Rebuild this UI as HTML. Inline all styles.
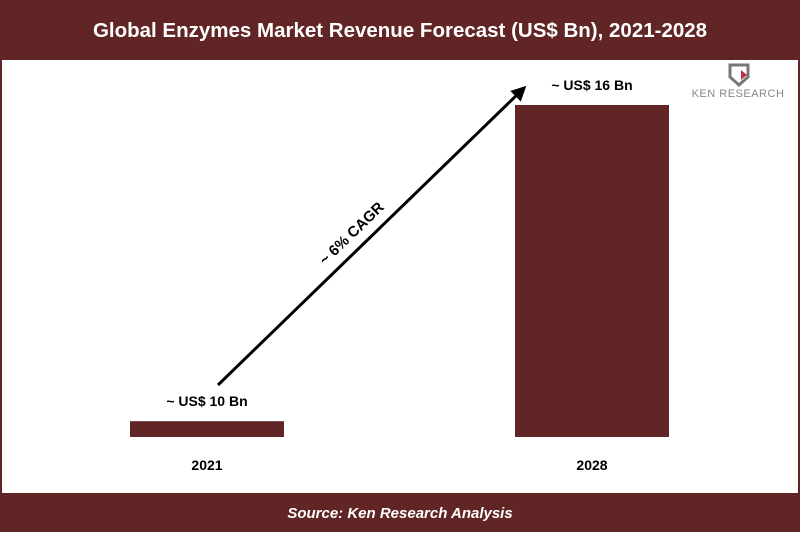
<!DOCTYPE html>
<html><head><meta charset="utf-8"><style>
body{margin:0;width:800px;height:532px;overflow:hidden;background:#fff;font-family:"Liberation Sans",sans-serif}
</style></head><body>
<svg width="800" height="532" xmlns="http://www.w3.org/2000/svg">
<rect x="0" y="0" width="800" height="532" fill="#622525"/>
<rect x="2" y="60" width="796" height="433" fill="#fff"/>
<text x="400" y="37" text-anchor="middle" fill="#fff" font-weight="bold" font-size="20.5">Global Enzymes Market Revenue Forecast (US$ Bn), 2021-2028</text>
<text x="400" y="518" text-anchor="middle" fill="#fff" font-weight="bold" font-style="italic" font-size="15">Source: Ken Research Analysis</text>
<g>
<path d="M730 65 h18 v12 l-9 8 l-9 -8z" fill="none" stroke="#777" stroke-width="3"/>
<path d="M741 70 l6 5 l-6 5z" fill="#c03040"/>
<text x="738" y="97" text-anchor="middle" fill="#888" font-size="11" letter-spacing="0.5">KEN RESEARCH</text>
</g>
<g id="bars"></g>
<defs><marker id="ah" markerWidth="5" markerHeight="5" refX="3" refY="2.5" orient="auto"><path d="M0,0 L5,2.5 L0,5z" fill="#000"/></marker></defs>
<line x1="218" y1="385" x2="522" y2="90" stroke="#000" stroke-width="3" marker-end="url(#ah)"/>
<text x="0" y="0" transform="translate(355,237) rotate(-44)" text-anchor="middle" font-weight="bold" font-size="15">~ 6% CAGR</text>
</svg>
<script>
const categories=["2021","2028"];
const values=[10,16];
const valueLabels=["~ US$ 10 Bn","~ US$ 16 Bn"];
const base=437, v0=9.7, k=52.7;
function y(v){return base-(v-v0)*k;}
function x(i){return [130,515][i];}
const g=document.getElementById('bars');
const ns='http://www.w3.org/2000/svg';
categories.forEach((c,i)=>{
 const r=document.createElementNS(ns,'rect');
 r.setAttribute('x',x(i));r.setAttribute('y',y(values[i]));r.setAttribute('width',154);r.setAttribute('height',base-y(values[i]));r.setAttribute('fill','#622525');
 
 
 g.appendChild(r);
 const t=document.createElementNS(ns,'text');
 t.setAttribute('x',x(i)+77);t.setAttribute('y',y(values[i])-15);t.setAttribute('text-anchor','middle');t.setAttribute('font-weight','bold');t.setAttribute('font-size','14');
 t.textContent=valueLabels[i];
 
 
 g.appendChild(t);
 const l=document.createElementNS(ns,'text');
 l.setAttribute('x',x(i)+77);l.setAttribute('y',470);l.setAttribute('text-anchor','middle');l.setAttribute('font-weight','bold');l.setAttribute('font-size','14');
 l.textContent=c;
 
 
 g.appendChild(l);
});
</script>
</body></html>
